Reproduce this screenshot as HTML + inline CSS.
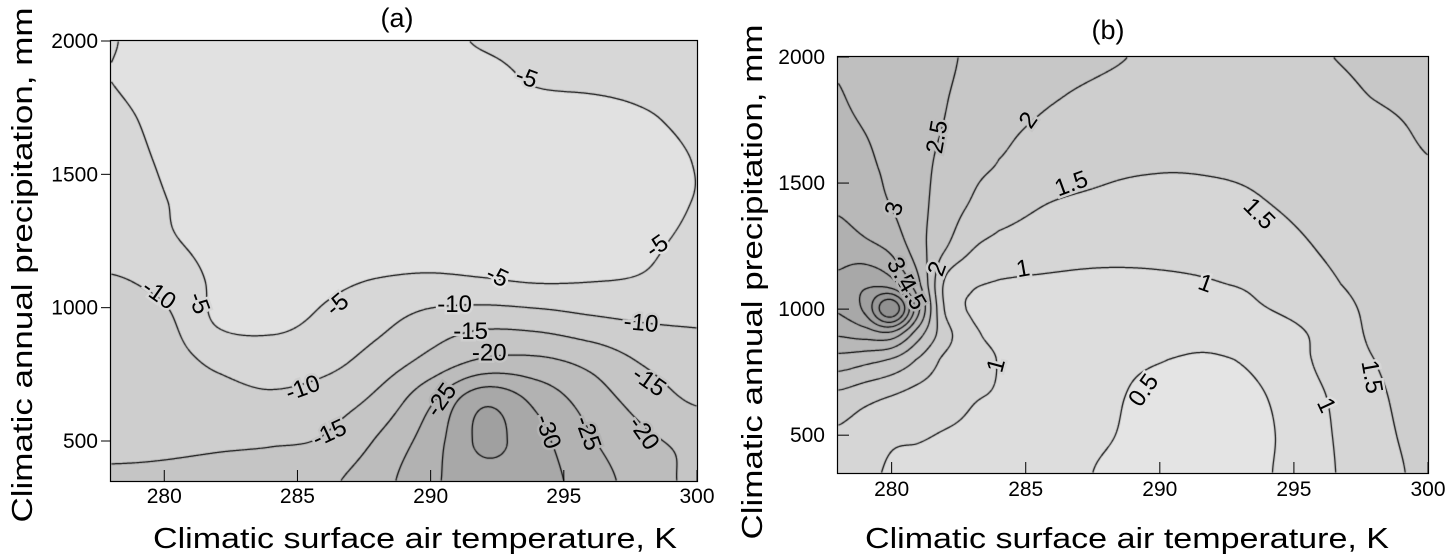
<!DOCTYPE html>
<html><head><meta charset="utf-8">
<style>
html,body{margin:0;padding:0;background:#fff;}
#root{position:relative;width:1445px;height:558px;overflow:hidden;background:#fff;}
canvas{position:absolute;}
svg{position:absolute;left:0;top:0;}
text{font-family:"Liberation Sans",Arial,sans-serif;fill:#000;}
</style></head>
<body>
<div id="root">
<canvas id="cva" width="586" height="440" style="left:111px;top:41px"></canvas>
<canvas id="cvb" width="590" height="416" style="left:838px;top:57px"></canvas>
<svg id="ov" width="1445" height="558"></svg>
</div>
<script>
// ---------- Panel (a) data ----------
const aX=[278,280,282,284,286,288,290,292,294,296,298,300];
const aY=[350,500,650,800,950,1100,1250,1400,1550,1700,1850,2000];
const aZ=[
[-16,-16,-16.5,-17.5,-19,-23,-29,-33,-32,-27.5,-22.5,-19],
[-13.5,-14,-14.3,-14.5,-15.5,-20.5,-27.5,-36,-31.5,-25.5,-21,-19],
[-13,-13,-12,-11,-12.5,-16.3,-24.3,-34,-28.7,-22.8,-18,-14.5],
[-12.5,-12,-9,-7.5,-8.5,-12,-16.5,-20.8,-21,-18.5,-14.5,-12],
[-11.5,-11,-4.5,-4,-5.8,-8.5,-12,-13.5,-12.8,-11,-9.8,-9.6],
[-10.5,-8.5,-4.2,-3.5,-4.2,-5.2,-5.8,-5.4,-4.7,-4.9,-5.5,-7.5],
[-7,-5.6,-3.6,-3,-3,-3,-3.2,-3.2,-3.1,-3.3,-4.2,-5.8],
[-6.5,-5.1,-3.5,-3,-3,-3,-3,-3,-3,-3,-3.6,-5.1],
[-6,-4.7,-3.3,-3,-3,-3,-3,-3,-3,-3,-3.6,-5.1],
[-5.6,-4.3,-3.2,-3,-3,-3,-3,-3,-3,-3.5,-4.6,-5.6],
[-5,-3.8,-3,-3,-3,-3,-3,-3.8,-5.3,-5.6,-5.8,-6],
[-5.1,-4,-3.5,-3,-3,-3,-4,-5.3,-5.8,-6,-6.2,-6.3]];
const aLevels=[-35,-30,-25,-20,-15,-10,-5];
const aLabText=["-5","-5","-5","-5","-5","-10","-10","-10","-10","-15","-15","-15","-20","-20","-25","-25","-30"];
const aLabX=[293.6,298.5,292.5,286.5,281.3,279.8,290.9,297.9,285.2,291.5,286.2,298.2,292.2,298.0,290.4,295.9,294.4];
const aLabY=[1862,1230,1117,1011,1017,1049,1011,942,698,911,529,723,830,529,654,529,535];
const aLabAng=[20,-35,25,-40,70,35,0,5,-20,0,-25,35,0,55,-55,70,70];

// ---------- Panel (b) data ----------
const bX=[278,279,280,281,282,283,284,286,288,290,292,294,296,298,300];
const bY=[350,500,650,800,900,1000,1100,1250,1400,1550,1700,1850,2000];
const bZ=[
[1.25,1.1,0.95,0.9,0.85,0.78,0.72,0.6,0.47,0.38,0.33,0.47,0.88,1.3,1.6],
[1.42,1.25,1.08,1.04,0.97,0.9,0.8,0.62,0.52,0.4,0.35,0.45,0.9,1.35,1.65],
[1.85,1.65,1.47,1.3,1.2,1.03,0.95,0.7,0.55,0.42,0.38,0.5,0.95,1.4,1.72],
[2.8,2.65,2.45,1.95,1.4,1.15,0.98,0.7,0.58,0.51,0.47,0.62,1.08,1.5,1.75],
[3.55,3.7,3.8,2.7,1.7,1.1,0.9,0.78,0.68,0.62,0.62,0.75,1.1,1.58,1.78],
[4.05,4.6,5.9,3.6,1.45,0.95,0.88,0.82,0.78,0.78,0.85,0.99,1.25,1.6,1.8],
[4.1,4.4,4.2,3.1,1.42,1.07,0.97,0.93,0.9,0.92,0.98,1.1,1.4,1.65,1.83],
[3.75,3.62,3.35,2.7,2.05,1.55,1.35,1.2,1.15,1.15,1.2,1.32,1.53,1.72,1.88],
[3.45,3.25,3.0,2.65,2.25,1.93,1.7,1.45,1.38,1.36,1.38,1.48,1.62,1.78,1.93],
[3.25,3.1,2.9,2.65,2.35,2.1,1.95,1.72,1.56,1.51,1.52,1.56,1.65,1.8,1.97],
[3.1,3.0,2.85,2.65,2.47,2.3,2.1,1.85,1.7,1.63,1.6,1.62,1.7,1.85,2.05],
[3.02,2.9,2.78,2.67,2.52,2.4,2.3,2.05,1.88,1.78,1.72,1.73,1.82,2.02,2.12],
[2.97,2.85,2.75,2.65,2.55,2.45,2.38,2.22,2.06,1.92,1.84,1.86,1.97,2.1,2.2]];
const bLevels=[0.5,1,1.5,2,2.5,3,3.5,4,4.5,5,5.5];
const bLabText=["2.5","2","3","1.5","1.5","2","3.5","4.5","1","1","1","0.5","1","1.5"];
const bLabX=[281.7,285.1,280.1,286.7,293.7,281.7,280.35,280.75,284.9,291.7,283.9,289.4,296.2,297.9];
const bLabY=[1683,1749,1398,1497,1378,1160,1140,1062,1160,1101,777,678,618,731];
const bLabAng=[-80,-55,-75,-20,45,-70,60,60,-10,20,-75,-55,65,80];

const xTicks=[280,285,290,295,300];
const yTicks=[500,1000,1500,2000];

const NS="http://www.w3.org/2000/svg";
const ov=document.getElementById('ov');
function mk(tag,attrs,txt){const e=document.createElementNS(NS,tag);for(const k in attrs)e.setAttribute(k,attrs[k]);if(txt!==undefined)e.textContent=txt;ov.appendChild(e);return e;}

function fidx(arr,v){
  if(v<=arr[0])return 0; const n=arr.length-1; if(v>=arr[n])return n;
  for(let i=0;i<n;i++){if(v<=arr[i+1])return i+(v-arr[i])/(arr[i+1]-arr[i]);}
  return n;
}
function cr(p0,p1,p2,p3,t){return 0.5*((2*p1)+(-p0+p2)*t+(2*p0-5*p1+4*p2-p3)*t*t+(-p0+3*p1-3*p2+p3)*t*t*t);}
function sample(X,Y,Z,x,y){
  const fi=fidx(X,x), fj=fidx(Y,y);
  const nx=X.length-1, ny=Y.length-1;
  let i=Math.min(Math.floor(fi),nx-1), j=Math.min(Math.floor(fj),ny-1);
  const tx=fi-i, ty=fj-j;
  const g=(jj,ii)=>Z[Math.max(0,Math.min(ny,jj))][Math.max(0,Math.min(nx,ii))];
  const r=[];
  for(let k=-1;k<=2;k++){r.push(cr(g(j+k,i-1),g(j+k,i),g(j+k,i+1),g(j+k,i+2),tx));}
  return cr(r[0],r[1],r[2],r[3],ty);
}

function drawPanel(cfg){
  const {cv,X,Y,Z,levels,grayFn,w,h,xmin,xmax,ymin,ymax}=cfg;
  const ctx=cv.getContext('2d');
  const vals=new Float32Array(w*h);
  for(let py=0;py<h;py++){
    const y=ymax-(py+0.5)/h*(ymax-ymin);
    for(let px=0;px<w;px++){
      const x=xmin+(px+0.5)/w*(xmax-xmin);
      vals[py*w+px]=sample(X,Y,Z,x,y);
    }
  }
  const img=ctx.createImageData(w,h);
  for(let k=0;k<w*h;k++){
    const g=grayFn(vals[k]);
    img.data[k*4]=g;img.data[k*4+1]=g;img.data[k*4+2]=g;img.data[k*4+3]=255;
  }
  ctx.putImageData(img,0,0);
  ctx.strokeStyle='#000';ctx.lineWidth=1.25;
  ctx.beginPath();
  for(const L of levels){
    for(let py=0;py<h-1;py++){
      for(let px=0;px<w-1;px++){
        const a=vals[py*w+px],b=vals[py*w+px+1],c=vals[(py+1)*w+px+1],d=vals[(py+1)*w+px];
        const pts=[];
        if((a<L)!==(b<L))pts.push([px+(L-a)/(b-a),py]);
        if((b<L)!==(c<L))pts.push([px+1,py+(L-b)/(c-b)]);
        if((d<L)!==(c<L))pts.push([px+(L-d)/(c-d),py+1]);
        if((a<L)!==(d<L))pts.push([px,py+(L-a)/(d-a)]);
        for(let q=0;q+1<pts.length;q+=2){
          ctx.moveTo(pts[q][0]+0.5,pts[q][1]+0.5);ctx.lineTo(pts[q+1][0]+0.5,pts[q+1][1]+0.5);
        }
      }
    }
  }
  ctx.stroke();
}

function grayA(v){let n=0;for(const L of aLevels){if(v<L)n++;}return [225,215,206,197,188,178,168,160][n];}
function grayB(v){let n=0;for(const L of bLevels){if(v>L)n++;}return [228,221,214,206,199,191,184,176,168,160,152,145][n];}

const PA={cv:document.getElementById('cva'),X:aX,Y:aY,Z:aZ,levels:aLevels,grayFn:grayA,left:111,top:41,w:586,h:440,xmin:278,xmax:300,ymin:350,ymax:2000};
const PB={cv:document.getElementById('cvb'),X:bX,Y:bY,Z:bZ,levels:bLevels,grayFn:grayB,left:838,top:57,w:590,h:416,xmin:278,xmax:300,ymin:350,ymax:2000};
drawPanel(PA);drawPanel(PB);

function sx(P,x){return P.left+(x-P.xmin)/(P.xmax-P.xmin)*P.w;}
function sy(P,y){return P.top+(P.ymax-y)/(P.ymax-P.ymin)*P.h;}

function axes(P,name,yTickOut,xLabBase,title,titleX,titleY,yTitleX,yTitleY,xTitleX){
  for(const t of xTicks){
    const x=sx(P,t);
    const tk=mk('line',{x1:x,x2:x,y1:P.top+P.h,y2:P.top+P.h-11,stroke:'#000','stroke-width':1});
    
    
    const lb=mk('text',{x:x,y:xLabBase,'font-size':21,'text-anchor':'middle'},String(t));
    
    
  }
  for(const t of yTicks){
    const y=sy(P,t);
    const x2=yTickOut?P.left-10:P.left+11;
    const tk=mk('line',{x1:P.left,x2:x2,y1:y,y2:y,stroke:'#000','stroke-width':1});
    
    
    const lb=mk('text',{x:P.left-13,y:y+7,'font-size':21,'text-anchor':'end'},String(t));
    
    
  }
  const fr=mk('rect',{x:P.left-0.5,y:P.top-0.5,width:P.w+1,height:P.h+1,fill:'none',stroke:'#000','stroke-width':1.2});
  
  
  const tt=mk('text',{x:titleX,y:titleY,'font-size':27,'text-anchor':'middle'},title);
  
  
  const yt=mk('text',{x:0,y:0,'font-size':29,'text-anchor':'middle',textLength:515,lengthAdjust:'spacingAndGlyphs',transform:'translate('+yTitleX+','+yTitleY+') rotate(-90)'},'Climatic annual precipitation, mm');
  
  
  const xt=mk('text',{x:xTitleX,y:548,'font-size':29,'text-anchor':'middle',textLength:524,lengthAdjust:'spacingAndGlyphs'},'Climatic surface air temperature, K');
  
  
}
axes(PA,'panel-a',true,503,'(a)',397,27,32,265,415);
axes(PB,'panel-b',false,496,'(b)',1108,39,762,282,1127);

function labels(P,texts,xs,ys,angs,name){
  for(let k=0;k<texts.length;k++){
    const x=sx(P,xs[k]),y=sy(P,ys[k]);
    const g=P.grayFn(sample(P.X,P.Y,P.Z,xs[k],ys[k]));
    const col='rgb('+g+','+g+','+g+')';
    const t=mk('text',{x:0,y:0,'font-size':24,'text-anchor':'middle','dominant-baseline':'central',stroke:col,'stroke-width':5,'paint-order':'stroke',transform:'translate('+x+','+y+') rotate('+angs[k]+')'},texts[k]);
    
    
  }
}
labels(PA,aLabText,aLabX,aLabY,aLabAng,'panel-a');
labels(PB,bLabText,bLabX,bLabY,bLabAng,'panel-b');
</script>
</body></html>
